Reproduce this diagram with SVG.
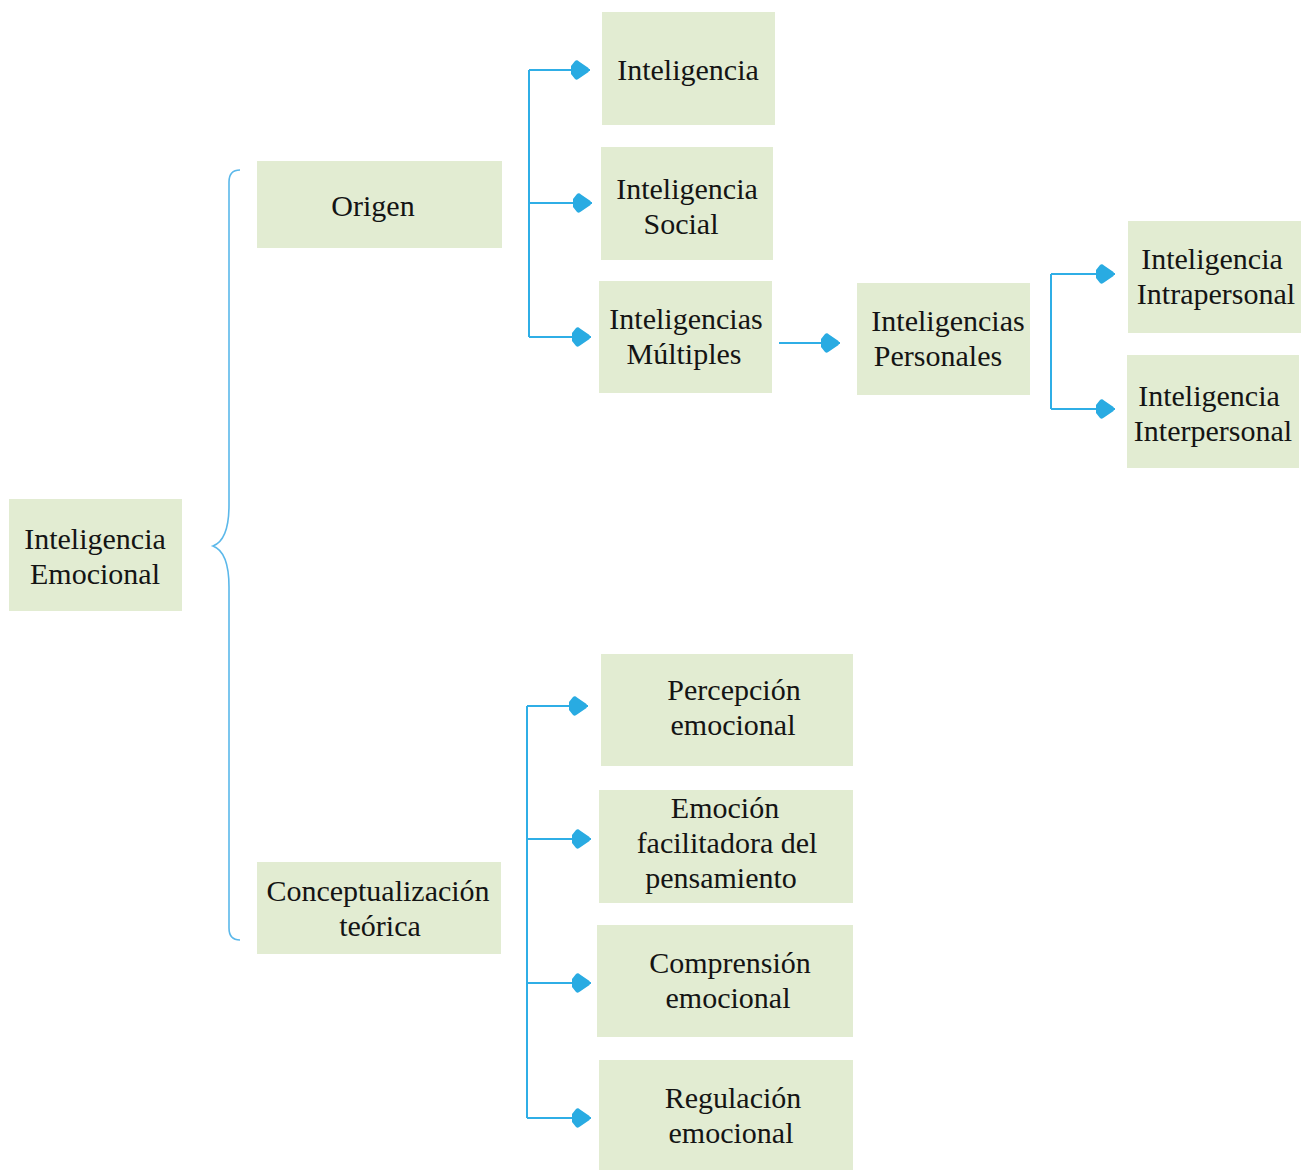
<svg xmlns="http://www.w3.org/2000/svg" width="1311" height="1170" viewBox="0 0 1311 1170">
<style>
.box{fill:#E2ECD2}
.t{font-family:"Liberation Serif","Times New Roman",serif;font-size:30px;fill:#141414;text-anchor:middle}
.ln{fill:none;stroke:#2FAEE6;stroke-width:2}
.br{fill:none;stroke:#5BB8EA;stroke-width:1.6}
</style>
<defs>
<marker id="ah" viewBox="-20 -11 21 22" refX="0" refY="0" markerWidth="21" markerHeight="22" markerUnits="userSpaceOnUse" orient="auto">
<path d="M -19,-4 L -15,-9 Q -13,-10.5 -11,-8.5 L -1.5,-2 Q 0,0 -1.5,2 L -11,8.5 Q -13,10.5 -15,9 L -19,4 Z" fill="#29ABE2"/>
</marker>
</defs>
<rect width="1311" height="1170" fill="#fff"/>
<g id="connectors">
<path class="br" d="M 240,170 Q 229,170 229,182 L 229,505 Q 229,540 213,546 Q 229,552 229,587 L 229,928 Q 229,940 240,940"/>
<path class="ln" d="M 529,70 L 529,337"/>
<path class="ln" d="M 529,70 L 590,70" marker-end="url(#ah)"/>
<path class="ln" d="M 529,203 L 592,203" marker-end="url(#ah)"/>
<path class="ln" d="M 529,337 L 591,337" marker-end="url(#ah)"/>
<path class="ln" d="M 779,343 L 840,343" marker-end="url(#ah)"/>
<path class="ln" d="M 1051,274 L 1051,409"/>
<path class="ln" d="M 1051,274 L 1115,274" marker-end="url(#ah)"/>
<path class="ln" d="M 1051,409 L 1115,409" marker-end="url(#ah)"/>
<path class="ln" d="M 527,706 L 527,1118"/>
<path class="ln" d="M 527,706 L 588,706" marker-end="url(#ah)"/>
<path class="ln" d="M 527,839 L 591,839" marker-end="url(#ah)"/>
<path class="ln" d="M 527,983 L 591,983" marker-end="url(#ah)"/>
<path class="ln" d="M 527,1118 L 591,1118" marker-end="url(#ah)"/>
</g>
<g id="n-emocional"><rect class="box" x="9" y="499" width="173" height="112"/><text class="t" x="95" y="549">Inteligencia</text><text class="t" x="95" y="584">Emocional</text></g>
<g id="n-origen"><rect class="box" x="257" y="161" width="245" height="87"/><text class="t" x="373" y="216">Origen</text></g>
<g id="n-conceptualizacion"><rect class="box" x="257" y="862" width="244" height="92"/><text class="t" x="378" y="901">Conceptualización</text><text class="t" x="380" y="936">teórica</text></g>
<g id="n-inteligencia"><rect class="box" x="602" y="12" width="173" height="113"/><text class="t" x="688" y="80">Inteligencia</text></g>
<g id="n-social"><rect class="box" x="601" y="147" width="172" height="113"/><text class="t" x="687" y="199">Inteligencia</text><text class="t" x="681" y="234">Social</text></g>
<g id="n-multiples"><rect class="box" x="599" y="281" width="173" height="112"/><text class="t" x="686" y="329">Inteligencias</text><text class="t" x="684" y="364">Múltiples</text></g>
<g id="n-personales"><rect class="box" x="857" y="283" width="173" height="112"/><text class="t" x="948" y="331">Inteligencias</text><text class="t" x="938" y="366">Personales</text></g>
<g id="n-intrapersonal"><rect class="box" x="1128" y="221" width="173" height="112"/><text class="t" x="1212" y="269">Inteligencia</text><text class="t" x="1216" y="304">Intrapersonal</text></g>
<g id="n-interpersonal"><rect class="box" x="1127" y="355" width="172" height="113"/><text class="t" x="1209" y="406">Inteligencia</text><text class="t" x="1213" y="441">Interpersonal</text></g>
<g id="n-percepcion"><rect class="box" x="601" y="654" width="252" height="112"/><text class="t" x="734" y="700">Percepción</text><text class="t" x="733" y="735">emocional</text></g>
<g id="n-facilitadora"><rect class="box" x="599" y="790" width="254" height="113"/><text class="t" x="725" y="818">Emoción</text><text class="t" x="727" y="853">facilitadora del</text><text class="t" x="721" y="888">pensamiento</text></g>
<g id="n-comprension"><rect class="box" x="597" y="925" width="256" height="112"/><text class="t" x="730" y="973">Comprensión</text><text class="t" x="728" y="1008">emocional</text></g>
<g id="n-regulacion"><rect class="box" x="599" y="1060" width="254" height="110"/><text class="t" x="733" y="1108">Regulación</text><text class="t" x="731" y="1143">emocional</text></g>
</svg>
